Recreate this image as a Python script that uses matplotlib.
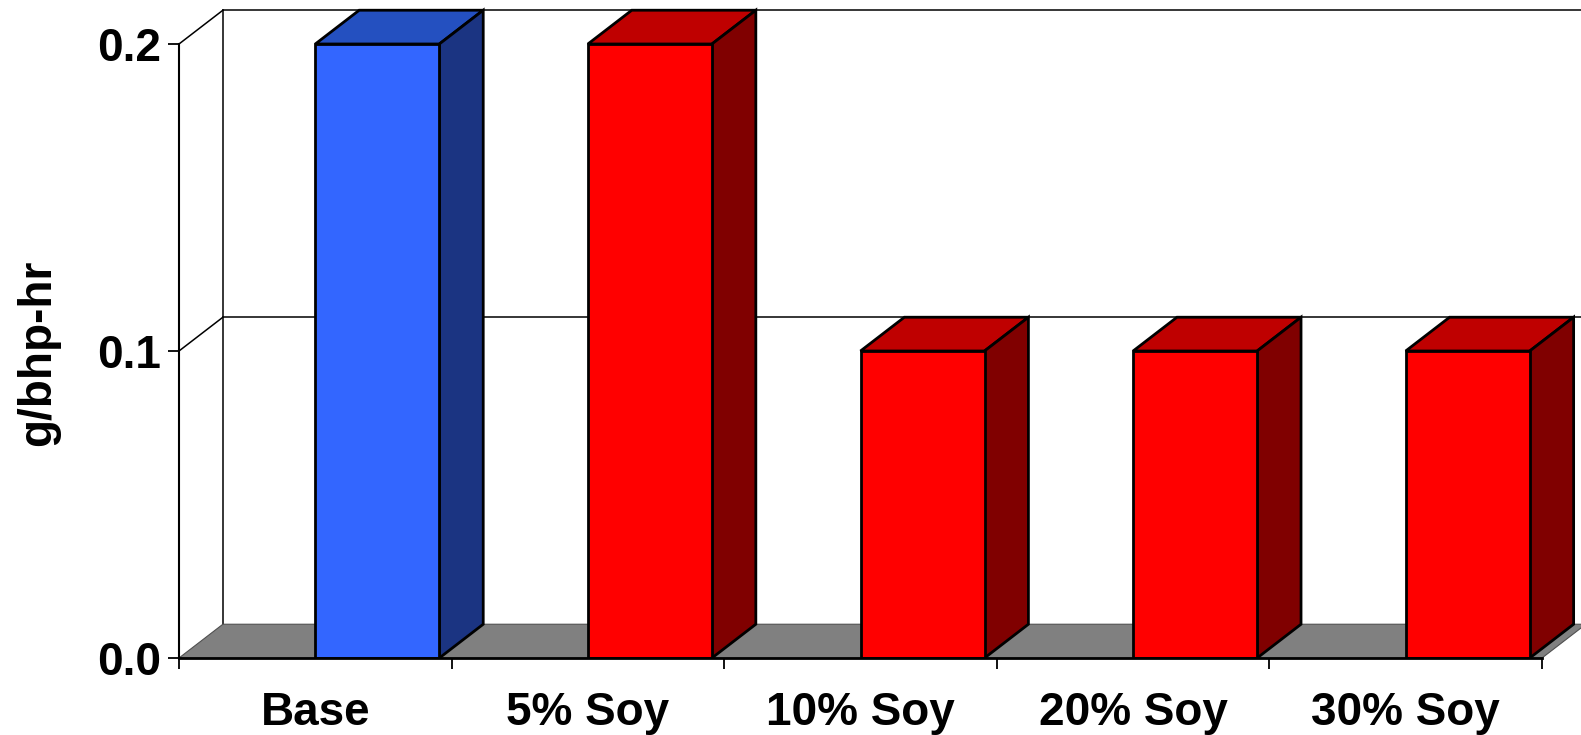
''' 3-d style column chart of emissions per fuel blend
'''
import matplotlib
import matplotlib.pyplot as plt
import matplotlib.ticker as mtick
from matplotlib.patches import Polygon

matplotlib.use('Agg')

categories = ['Base', '5% Soy', '10% Soy', '20% Soy', '30% Soy']
values = [0.2, 0.2, 0.1, 0.1, 0.1]
y_ticks = [0.0, 0.1, 0.2]

# face colours: front, top, side
BLUE = ('#3366ff', '#2450c0', '#1b3482')
RED = ('#ff0000', '#bf0000', '#800000')
bar_colors = [BLUE, RED, RED, RED, RED]

FLOOR = '#808080'
BAR_W = 0.455      # front face width in category units
DX = 0.161         # depth offset, x (category units)
DY = 0.0110        # depth offset, y (value units)

plt.rcParams['font.family'] = ['Liberation Sans', 'DejaVu Sans']
plt.rcParams['font.weight'] = 'bold'

fig = plt.figure(figsize=(15.81, 7.35), dpi=100)
ax = fig.add_axes([179 / 1581, 77 / 735, 1402 / 1581, 658 / 735])
n = len(categories)
ax.set_xlim(-0.5, -0.5 + 1402 / 272.6)
ax.set_ylim(0, 658 / 3070)

x0, x1 = -0.5, n - 0.5
top = max(y_ticks)

# back wall, left wall edge and floor
ax.add_patch(Polygon([(x0 + DX, DY), (x1 + DX, DY), (x1 + DX, top + DY),
                      (x0 + DX, top + DY)], closed=True, facecolor='white',
                     edgecolor='none', zorder=0))
ax.plot([x0 + DX, x0 + DX], [DY, top + DY], color='black', lw=1.1, zorder=1)
for v in y_ticks[1:]:
    ax.plot([x0 + DX, 6], [v + DY, v + DY], color='black', lw=1.1, zorder=1)
    ax.plot([x0, x0 + DX], [v, v + DY], color='black', lw=1.1, zorder=1)
ax.add_patch(Polygon([(x0, 0), (x1, 0), (x1 + DX, DY), (x0 + DX, DY)],
                     closed=True, facecolor=FLOOR, edgecolor='#505050',
                     lw=0.8, zorder=2))

# columns: front face through ax.bar, then top and side faces
xs = list(range(n))
ax.bar(xs, values, BAR_W, align='edge', color=[c[0] for c in bar_colors],
       edgecolor='black', linewidth=2.0, zorder=4)
for x, v, c in zip(xs, values, bar_colors):
    xr = x + BAR_W
    ax.add_patch(Polygon([(x, v), (xr, v), (xr + DX, v + DY), (x + DX, v + DY)],
                         closed=True, facecolor=c[1], edgecolor='black',
                         lw=2.0, zorder=3))
    ax.add_patch(Polygon([(xr, 0), (xr + DX, DY), (xr + DX, v + DY), (xr, v)],
                         closed=True, facecolor=c[2], edgecolor='black',
                         lw=2.0, zorder=3))

# axes
for side in ['top', 'right']:
    ax.spines[side].set_visible(False)
ax.spines['left'].set_bounds(0, top)
ax.spines['bottom'].set_bounds(x0, x1)
ax.spines['left'].set_linewidth(1.5)
ax.spines['bottom'].set_linewidth(2.0)
ax.spines['left'].set_zorder(6)
ax.spines['bottom'].set_zorder(6)

ax.set_yticks(y_ticks)
ax.yaxis.set_major_formatter(mtick.FormatStrFormatter('%.1f'))
ax.tick_params(axis='y', length=8, width=1.3, pad=5, labelsize=33)

ax.set_xticks([i - 0.5 for i in range(n + 1)])
ax.set_xticklabels([])
ax.set_xticks(xs, minor=True)
ax.set_xticklabels(categories, minor=True)
ax.tick_params(axis='x', which='major', length=8, width=1.3)
ax.tick_params(axis='x', which='minor', length=0, pad=24, labelsize=33)

fig.text(38 / 1581, (735 - 353) / 735, 'g/bhp-hr', rotation=90,
         ha='center', va='center', fontsize=33, fontweight='bold')

plt.savefig('out.png', format='png')
plt.close()
